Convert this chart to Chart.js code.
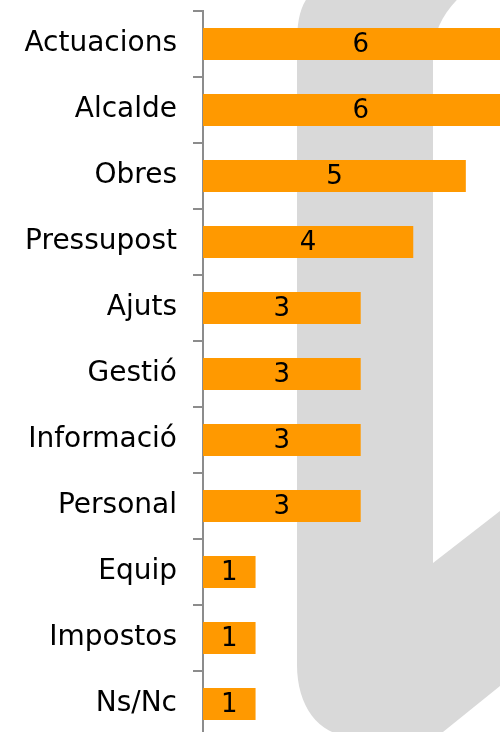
<!DOCTYPE html>
<html>
<head>
<meta charset="utf-8">
<script src="https://cdn.jsdelivr.net/npm/chart.js@4/dist/chart.umd.min.js"></script>
<style>
  html, body { margin: 0; padding: 0; background: #fff; overflow: hidden; }
  #wrap { position: relative; width: 500px; height: 737px; }
</style>
</head>
<body>
<div id="wrap"><canvas id="chart"></canvas></div>
<script>
const categories = ["Actuacions", "Alcalde", "Obres", "Pressupost", "Ajuts", "Gestió",
  "Informació", "Personal", "Equip", "Impostos", "Ns/Nc"];
const values = [6, 6, 5, 4, 3, 3, 3, 3, 1, 1, 1];

const FONT = "'DejaVu Sans', sans-serif";

// light grey logo shape behind the bars
const watermark = {
  id: "watermark",
  beforeDraw(chart) {
    const ctx = chart.ctx;
    ctx.save();
    ctx.fillStyle = "#fff";
    ctx.fillRect(0, 0, chart.width, chart.height);
    ctx.fillStyle = "#d9d9d9";
    ctx.beginPath();
    ctx.moveTo(297, 45);
    ctx.bezierCurveTo(297, 20, 300, 5, 312, -8);
    ctx.lineTo(465, -8);
    ctx.bezierCurveTo(445, 10, 433, 30, 433, 55);
    ctx.lineTo(433, 563);
    ctx.lineTo(500, 511);
    ctx.lineTo(500, 686);
    ctx.lineTo(438, 736);
    ctx.lineTo(352, 736);
    ctx.bezierCurveTo(318, 736, 297, 705, 297, 665);
    ctx.closePath();
    ctx.fill();
    ctx.restore();
  }
};

// value written in the middle of the full bar
const barValues = {
  id: "barValues",
  afterDatasetsDraw(chart) {
    const ctx = chart.ctx;
    const x = chart.scales.x;
    const meta = chart.getDatasetMeta(0);
    ctx.save();
    ctx.fillStyle = "#000";
    ctx.font = "26px " + FONT;
    ctx.textAlign = "center";
    ctx.textBaseline = "middle";
    meta.data.forEach((bar, i) => {
      const v = values[i];
      ctx.fillText(String(v), x.getPixelForValue(v / 2), bar.y + 1);
    });
    ctx.restore();
  }
};

new Chart("chart", {
  type: "bar",
  data: {
    labels: categories,
    datasets: [{
      data: values,
      backgroundColor: "#ff9900",
      borderWidth: 0,
      barPercentage: 0.485,
      categoryPercentage: 1
    }]
  },
  options: {
    indexAxis: "y",
    responsive: true,
    maintainAspectRatio: false,
    animation: false,
    layout: { padding: { top: 11, right: 0, bottom: 0, left: 0 } },
    plugins: {
      legend: { display: false },
      tooltip: { enabled: false }
    },
    scales: {
      x: {
        display: false,
        min: 0,
        max: 5.65
      },
      y: {
        afterFit(scale) {
          scale.width = 203;
          scale.paddingTop = 0;
          scale.paddingBottom = 0;
        },
        grid: {
          offset: true,
          drawOnChartArea: false,
          drawTicks: true,
          tickLength: 10,
          color: "#8c8c8c",
          lineWidth: 2
        },
        border: { display: true, color: "#8c8c8c", width: 2 },
        ticks: {
          padding: 16,
          color: "#000",
          font: { family: FONT, size: 28 }
        }
      }
    }
  },
  plugins: [watermark, barValues]
});
</script>
</body>
</html>
